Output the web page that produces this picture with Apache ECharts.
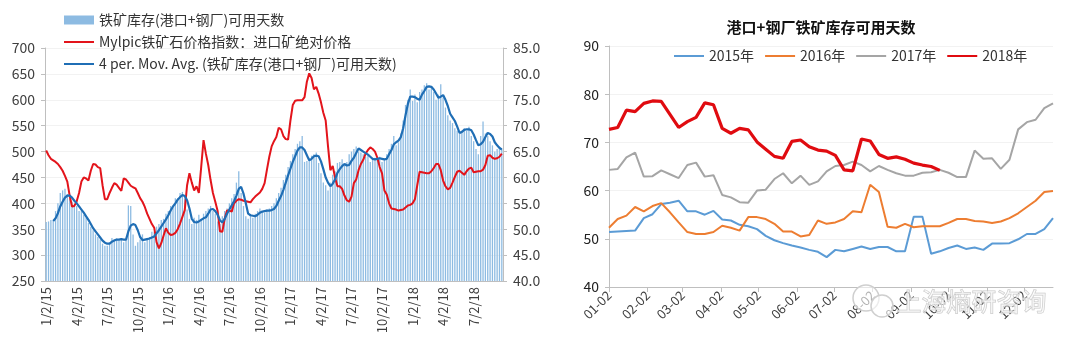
<!DOCTYPE html>
<html>
<head>
<meta charset="utf-8">
<script src="https://cdn.jsdelivr.net/npm/echarts@6/dist/echarts.min.js"></script>
<style>
html,body{margin:0;padding:0;background:#fff;}
#c{width:1080px;height:351px;}
</style>
</head>
<body>
<div id="c"></div>
<script>
// ---------- Left chart data (weekly from 1/2/15) ----------
const leftTickLabels = ['1/2/15','4/2/15','7/2/15','10/2/15','1/2/16','4/2/16','7/2/16','10/2/16','1/2/17','4/2/17','7/2/17','10/2/17','1/2/18','4/2/18','7/2/18'];

const inventoryDays = [364,365,368,367,385,400,420,425,428,418,410,403,398,395,385,385,378,372,362,355,
348,340,335,330,322,318,318,325,333,330,332,328,333,325,330,396,395,340,318,325,
330,340,325,333,335,345,345,355,360,368,370,380,385,395,392,410,410,420,422,410,
388,370,360,372,368,378,370,380,385,390,395,385,380,365,360,375,385,390,400,410,
418,440,462,420,395,375,370,378,372,380,385,390,385,382,388,390,395,400,410,420,
430,445,455,470,482,495,505,515,520,530,480,482,488,492,495,498,478,458,440,435,
425,440,455,462,478,480,485,475,480,495,500,505,510,500,498,495,490,492,480,485,
488,485,490,480,485,495,505,515,530,512,518,535,560,590,600,620,598,610,595,615,
620,628,632,620,625,615,600,610,630,605,585,570,560,555,545,540,535,540,545,540,
548,530,520,505,495,530,558,535,530,520,512,500,505,510,505];

const mylpicPrice = [65.2,64.3,63.6,63.3,63.0,62.6,62.0,61.3,60.3,59.2,56.5,54.4,54.5,55.4,57.0,59.2,60.0,59.8,59.4,61.3,
62.6,62.5,62.0,61.8,58.5,55.8,55.8,57.0,58.0,58.9,58.6,58.0,57.4,59.8,59.6,59.0,58.4,58.1,57.9,57.0,
56.0,55.3,54.3,53.0,52.0,51.0,50.3,47.5,46.3,47.3,48.8,50.2,49.3,48.9,49.0,49.3,50.0,51.1,52.4,53.7,
58.5,60.8,59.0,57.5,58.3,57.0,62.0,67.2,64.6,62.4,59.5,57.0,55.3,53.5,49.6,49.5,52.0,53.6,53.6,53.4,
55.0,55.5,55.8,55.7,55.5,55.4,55.3,55.2,55.8,56.3,56.7,57.1,57.8,58.9,61.5,64.0,66.0,67.0,67.8,69.6,
69.3,68.0,67.4,67.3,71.0,74.0,74.8,74.9,74.9,74.9,75.5,78.5,80.1,79.2,77.0,77.5,76.2,74.5,72.5,71.0,
66.0,61.4,62.2,60.0,58.3,58.3,57.8,56.5,55.6,55.3,56.3,58.9,59.6,61.4,62.6,63.4,64.6,65.3,65.8,65.5,
65.0,63.8,62.0,60.8,57.5,56.7,55.0,54.0,53.9,53.8,53.6,53.7,53.8,54.2,54.6,54.7,55.0,55.8,58.5,61.1,
61.0,60.9,60.8,60.8,61.2,61.8,62.6,62.6,61.4,59.4,58.3,57.7,58.0,59.0,60.1,61.1,61.3,60.9,60.5,61.2,
61.7,61.9,61.0,61.1,61.2,61.2,61.5,62.4,64.2,64.3,63.8,63.6,63.7,64.0,64.6];

const movingAvg4 = [null,null,null,366,371,381,394,403,411,415,415,411,405,400,394,388,382,375,368,360,
352,346,340,334,328,324,322,322,326,328,330,330,331,330,330,346,357,360,358,348,
335,329,330,331,332,334,336,342,348,355,362,369,377,386,394,400,407,412,416,414,
406,390,370,364,363,365,368,371,373,380,388,389,385,378,367,363,370,380,388,396,
404,415,428,432,419,400,380,377,376,375,378,382,384,385,386,386,387,389,395,405,
414,426,440,454,467,480,491,502,508,508,503,493,483,486,491,492,491,481,466,450,
440,433,438,446,459,466,472,476,473,474,482,488,497,506,503,500,497,494,490,486,
485,486,487,486,485,486,495,503,514,518,521,528,545,570,592,606,606,605,602,600,
610,617,625,626,625,620,612,604,606,609,600,588,573,566,559,548,536,538,542,543,
543,541,533,522,512,514,519,528,536,534,529,518,512,507,504];

// ---------- Right chart data (weekly, day offset from 01-02) ----------
const monthTickLabels = ['01-02','02-02','03-02','04-02','05-02','06-02','07-02','08-02','09-02','10-02','11-02','12-02'];
const monthTickDays = [0,31,59,90,120,151,181,212,243,273,304,334];
const years = ['2015年','2016年','2017年','2018年'];

const days2015 = [51.4,51.5,51.6,51.7,54.3,55.1,57.2,57.5,57.9,55.7,55.7,55.0,55.8,54.0,53.8,52.9,52.6,52.0,50.6,49.7,
49.1,48.6,48.2,47.7,47.3,46.2,47.7,47.4,47.9,48.4,47.9,48.3,48.3,47.4,47.4,54.6,54.6,46.9,47.4,48.1,
48.6,47.9,48.2,47.7,49.0,49.0,49.1,49.9,51.0,51.0,52.0,54.3];
const days2016 = [52.3,54.1,54.8,56.6,55.7,56.8,57.4,55.5,53.4,51.4,51.0,51.0,51.4,52.7,52.3,51.7,54.5,54.5,54.1,53.1,
51.5,51.5,50.5,50.8,53.8,53.1,53.4,54.1,55.7,55.5,61.2,59.7,52.5,52.3,53.1,52.4,52.6,52.6,52.6,53.3,
54.1,54.1,53.7,53.6,53.3,53.6,54.3,55.3,56.6,57.9,59.7,59.9];
const days2017 = [64.3,64.5,66.9,67.9,62.9,63.0,64.2,63.4,62.6,65.3,65.8,62.9,63.2,59.1,58.6,57.6,57.5,60.0,60.2,62.4,
63.6,61.5,63.1,61.2,61.9,64.0,65.1,65.3,66.0,65.3,64.0,65.1,64.3,63.6,63.1,63.1,63.7,63.8,64.3,63.7,
62.8,62.8,68.3,66.6,66.7,64.5,66.4,72.7,74.2,74.7,77.1,78.1];
const days2018 = [72.7,73.1,76.7,76.4,78.1,78.6,78.5,75.8,73.1,74.3,75.2,78.2,77.8,72.9,71.9,72.9,72.6,70.1,68.6,67.1,
66.7,70.2,70.5,69.1,68.4,68.2,67.3,64.3,64.1,70.7,70.3,67.5,66.7,67.0,66.5,65.7,65.3,65.0,64.2];

// ---------- build ----------
const weekDates = inventoryDays.map((_, i) => {
  const d = new Date(Date.UTC(2015, 0, 2 + 7 * i));
  return (d.getUTCMonth() + 1) + '/' + d.getUTCDate() + '/' + String(d.getUTCFullYear()).slice(2);
});
const toPairs = arr => arr.map((v, k) => [k * 7, v]);

const FONT = '"Noto Sans CJK SC", "Noto Sans", sans-serif';
const TXT = '#404040';
const AXIS = '#bfbfbf';
const noMarker = {opacity: 0};

const chart = echarts.init(document.getElementById('c'), null, {renderer: 'canvas'});
chart.setOption({
  animation: false,
  textStyle: {fontFamily: FONT},
  title: {
    text: '港口+钢厂铁矿库存可用天数',
    left: 816, top: 15, textAlign: 'center',
    textStyle: {fontSize: 15, fontWeight: 'bold', color: '#111', fontFamily: FONT}
  },
  legend: [
    {
      orient: 'vertical', left: 58, top: 8, itemGap: 8, itemWidth: 30, itemHeight: 9,
      textStyle: {fontSize: 14, color: '#333', fontFamily: FONT},
      data: [
        {name: '铁矿库存(港口+钢厂)可用天数', icon: 'rect'},
        {name: 'Mylpic铁矿石价格指数：进口矿绝对价格', itemStyle: noMarker},
        {name: '4 per. Mov. Avg. (铁矿库存(港口+钢厂)可用天数)', itemStyle: noMarker}
      ]
    },
    {
      orient: 'horizontal', left: 668, top: 44, itemGap: 10, itemWidth: 30, itemHeight: 10,
      textStyle: {fontSize: 14, color: '#333', fontFamily: FONT},
      data: years.map(y => ({name: y, itemStyle: noMarker}))
    }
  ],
  grid: [
    {left: 45, right: 577, top: 48, bottom: 70},
    {left: 609, right: 27, top: 46, bottom: 64}
  ],
  xAxis: [
    {
      type: 'category', gridIndex: 0, data: weekDates, boundaryGap: true,
      axisLine: {lineStyle: {color: AXIS}},
      axisTick: {alignWithLabel: true, length: 5, lineStyle: {color: AXIS},
        interval: (idx) => idx % 13 === 0 && idx / 13 < leftTickLabels.length},
      axisLabel: {
        rotate: 90, fontSize: 13, color: TXT, margin: 6, fontFamily: FONT,
        interval: (idx) => idx % 13 === 0 && idx / 13 < leftTickLabels.length,
        formatter: (v, idx) => leftTickLabels[idx / 13] || ''
      }
    },
    {
      type: 'value', gridIndex: 1, min: 0, max: 357,
      axisLine: {lineStyle: {color: AXIS}},
      axisTick: {show: true, length: 5, lineStyle: {color: AXIS}, customValues: monthTickDays},
      splitLine: {show: false},
      axisLabel: {
        rotate: 45, fontSize: 13, color: TXT, margin: 6, fontFamily: FONT,
        customValues: monthTickDays,
        formatter: (v) => monthTickLabels[monthTickDays.indexOf(v)] || ''
      }
    }
  ],
  yAxis: [
    {
      type: 'value', gridIndex: 0, min: 250, max: 700, interval: 50,
      axisLine: {show: true, lineStyle: {color: AXIS}},
      axisTick: {show: true, length: 4, lineStyle: {color: AXIS}},
      splitLine: {lineStyle: {color: '#f2f2f2'}},
      axisLabel: {fontSize: 14, color: TXT, margin: 10, fontFamily: FONT}
    },
    {
      type: 'value', gridIndex: 0, position: 'right', min: 40, max: 85, interval: 5,
      axisLine: {show: true, lineStyle: {color: AXIS}},
      axisTick: {show: true, length: 4, lineStyle: {color: AXIS}},
      splitLine: {show: false},
      axisLabel: {fontSize: 14, color: TXT, margin: 10, fontFamily: FONT, formatter: v => v.toFixed(1)}
    },
    {
      type: 'value', gridIndex: 1, min: 40, max: 90, interval: 10,
      axisLine: {show: true, lineStyle: {color: AXIS}},
      axisTick: {show: true, length: 4, lineStyle: {color: AXIS}},
      splitLine: {lineStyle: {color: '#f2f2f2'}},
      axisLabel: {fontSize: 14, color: '#222', margin: 10, fontFamily: FONT}
    }
  ],
  series: [
    {
      name: '铁矿库存(港口+钢厂)可用天数', type: 'bar', xAxisIndex: 0, yAxisIndex: 0,
      data: inventoryDays, barCategoryGap: '45%',
      itemStyle: {color: '#8dbbe2'}
    },
    {
      name: 'Mylpic铁矿石价格指数：进口矿绝对价格', type: 'line', xAxisIndex: 0, yAxisIndex: 1,
      data: mylpicPrice, symbol: 'none', lineStyle: {color: '#e3141b', width: 2}, itemStyle: {color: '#e3141b'}
    },
    {
      name: '4 per. Mov. Avg. (铁矿库存(港口+钢厂)可用天数)', type: 'line', xAxisIndex: 0, yAxisIndex: 0,
      data: movingAvg4, symbol: 'none', lineStyle: {color: '#1f6eb5', width: 2.2}, itemStyle: {color: '#1f6eb5'}
    },
    {
      name: years[0], type: 'line', xAxisIndex: 1, yAxisIndex: 2, data: toPairs(days2015),
      symbol: 'none', lineStyle: {color: '#5b9bd5', width: 2}, itemStyle: {color: '#5b9bd5'}
    },
    {
      name: years[1], type: 'line', xAxisIndex: 1, yAxisIndex: 2, data: toPairs(days2016),
      symbol: 'none', lineStyle: {color: '#ed7d31', width: 2}, itemStyle: {color: '#ed7d31'}
    },
    {
      name: years[2], type: 'line', xAxisIndex: 1, yAxisIndex: 2, data: toPairs(days2017),
      symbol: 'none', lineStyle: {color: '#a5a5a5', width: 2}, itemStyle: {color: '#a5a5a5'}
    },
    {
      name: years[3], type: 'line', xAxisIndex: 1, yAxisIndex: 2, data: toPairs(days2018),
      symbol: 'none', lineStyle: {color: '#e00b10', width: 3.2}, itemStyle: {color: '#e00b10'}
    }
  ],
  graphic: [
    {type: 'circle', shape: {cx: 866, cy: 298, r: 13}, style: {fill: 'rgba(255,255,255,0.6)', stroke: '#cfcfcf', lineWidth: 1.5}, z: 100},
    {type: 'circle', shape: {cx: 882, cy: 306, r: 11}, style: {fill: 'rgba(255,255,255,0.6)', stroke: '#cfcfcf', lineWidth: 1.5}, z: 100},
    {type: 'text', left: 896, top: 288, z: 100,
      style: {text: '上海熵研咨询', fontSize: 25, fontFamily: FONT, fill: 'rgba(255,255,255,0.5)', stroke: '#c8c8c8', lineWidth: 1}}
  ]
});
</script>
</body>
</html>
